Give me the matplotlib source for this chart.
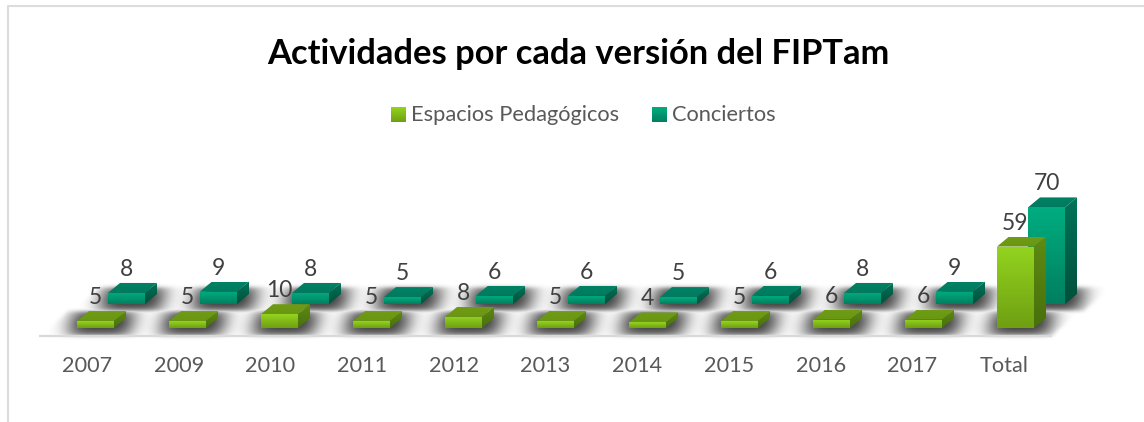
import numpy as np
import matplotlib
matplotlib.use('Agg')
import matplotlib.pyplot as plt
from matplotlib.colors import to_rgb
from matplotlib.patches import Polygon
from matplotlib.path import Path

categories = ['2007', '2009', '2010', '2011', '2012', '2013', '2014', '2015', '2016', '2017', 'Total']
espacios = [5, 5, 10, 5, 8, 5, 4, 5, 6, 6, 59]
conciertos = [8, 9, 8, 5, 6, 6, 5, 6, 8, 9, 70]

W, H = 1144, 422

#Pixel layout of the fake 3D chart
STEP_PX = 92.0
UNIT_PX = 1.38
ORIGIN_X = 95.5
ORIGIN_Y = 328.0
BAR_W = 37 / STEP_PX
DEPTH_X = 12 / STEP_PX
DEPTH_Y = 10 / UNIT_PX
ROW_X = 31 / STEP_PX
ROW_Y = 24 / UNIT_PX
LABEL_GAP = 23.5 / UNIT_PX

GREEN = {'front': ('#93d41f', '#6f9f12'), 'side': ('#5f8a12', '#48700c'), 'top': ('#6f9c15', '#6a9613')}
TEAL = {'front': ('#00ad80', '#007f60'), 'side': ('#007458', '#00503c'), 'top': ('#008265', '#007a5e')}


def px_x(p):
    return (p - ORIGIN_X) / STEP_PX


def px_y(p):
    return (ORIGIN_Y - p) / UNIT_PX


def gradient(ax, c0, c1, verts):
    c0 = np.array(to_rgb(c0))
    c1 = np.array(to_rgb(c1))
    t = np.linspace(0, 1, 64)[:, None, None]
    img = c0[None, None, :] * (1 - t) + c1[None, None, :] * t
    xs = [v[0] for v in verts]
    ys = [v[1] for v in verts]
    im = ax.imshow(img, extent=(min(xs), max(xs), min(ys), max(ys)), origin='upper',
                   aspect='auto', interpolation='bilinear', zorder=3)
    im.set_clip_path(Polygon(verts, closed=True, transform=ax.transData))


#Front, side and top faces of one box
def draw_box(ax, x, y0, value, colors):
    l, r = x - BAR_W / 2, x + BAR_W / 2
    t = y0 + value
    gradient(ax, *colors['side'], [(r, y0), (r + DEPTH_X, y0 + DEPTH_Y), (r + DEPTH_X, t + DEPTH_Y), (r, t)])
    gradient(ax, *colors['top'], [(l, t), (r, t), (r + DEPTH_X, t + DEPTH_Y), (l + DEPTH_X, t + DEPTH_Y)])
    gradient(ax, *colors['front'], [(l, y0), (r, y0), (r, t), (l, t)])


def blur(a, sigma):
    k = np.exp(-0.5 * (np.arange(-int(3 * sigma), int(3 * sigma) + 1) / sigma) ** 2)
    k /= k.sum()
    a = np.apply_along_axis(lambda v: np.convolve(v, k, mode='same'), 0, a)
    return np.apply_along_axis(lambda v: np.convolve(v, k, mode='same'), 1, a)


def raster(verts, gx, gy):
    return Path(verts).contains_points(np.c_[gx.ravel(), gy.ravel()]).reshape(gx.shape).astype(float)


#Blurred shadows on the floor, one band per series
def floor_shadow(ax):
    gx, gy = np.meshgrid(np.arange(W) + 0.5, np.arange(H) + 0.5)
    total = np.zeros((H, W))
    for dx, dy, band in [(0, 0, [(39, 336), (1052, 336), (1080, 311), (68, 311)]),
                         (31, -24, [(72, 311), (1084, 311), (1112, 287), (100, 287)])]:
        mask = np.zeros((H, W))
        for i in range(len(categories)):
            l = ORIGIN_X + STEP_PX * i - 18.5 + dx
            b = ORIGIN_Y + dy
            pad = 12
            mask += raster([(l - pad, b + 8), (l + 37 + pad, b + 8),
                            (l + 49 + pad, b - 18), (l + 12 - pad, b - 18)], gx, gy)
        mask = blur(np.clip(mask, 0, 1), 9)
        mask = np.clip(mask * 1.25, 0, 1) * blur(raster(band, gx, gy), 2)
        total = np.maximum(total, mask)
    img = np.zeros((H, W, 4))
    img[..., :3] = 0.2
    img[..., 3] = total * 0.9
    ax.imshow(img, extent=(px_x(0), px_x(W), px_y(H), px_y(0)), origin='upper',
              aspect='auto', interpolation='nearest', zorder=1)


plt.rcParams['font.family'] = ['Lato', 'DejaVu Sans']
fig = plt.figure(figsize=(W / 100, H / 100), dpi=100)
ax = fig.add_axes([0, 0, 1, 1])
ax.axis('off')

#Chart frame, only top and left edges show in the crop
ax.plot([px_x(8), px_x(8), px_x(W)], [px_y(H), px_y(5.5), px_y(5.5)], color='#dcdcdc', lw=1.5, zorder=0)

floor_shadow(ax)
ax.plot([px_x(39), px_x(1052)], [px_y(336), px_y(336)], color='#d9d9d9', lw=1.6, zorder=2,
        solid_capstyle='butt')

for i, value in enumerate(conciertos):
    draw_box(ax, i + ROW_X, ROW_Y, value, TEAL)
for i, value in enumerate(espacios):
    draw_box(ax, i, 0, value, GREEN)

for i in range(len(categories)):
    ax.text(i + ROW_X, ROW_Y + conciertos[i] + LABEL_GAP, str(conciertos[i]), ha='center', va='center',
            fontsize=16.5, color='#404040', zorder=5)
    ax.text(i, espacios[i] + LABEL_GAP, str(espacios[i]), ha='center', va='center',
            fontsize=16.5, color='#404040', zorder=5)
    ax.text(px_x(87 + 91.7 * i), px_y(366), categories[i], ha='center', va='center',
            fontsize=15.6, color='#595959', zorder=5)

ax.text(px_x(578), px_y(54), 'Actividades por cada versión del FIPTam', ha='center', va='center',
        fontsize=24.8, fontweight='bold', color='black')

#Legend
for left, text, colors in [(391, 'Espacios Pedagógicos', GREEN), (652, 'Conciertos', TEAL)]:
    x0, x1 = px_x(left), px_x(left + 15)
    y0, y1 = px_y(122), px_y(107)
    gradient(ax, *colors['front'], [(x0, y0), (x1, y0), (x1, y1), (x0, y1)])
    ax.text(px_x(left + 20), px_y(115), text, ha='left', va='center', fontsize=15.75, color='#595959')

ax.set_xlim(px_x(0), px_x(W))
ax.set_ylim(px_y(H), px_y(0))

fig.savefig('out.png', dpi=100, facecolor='white')
